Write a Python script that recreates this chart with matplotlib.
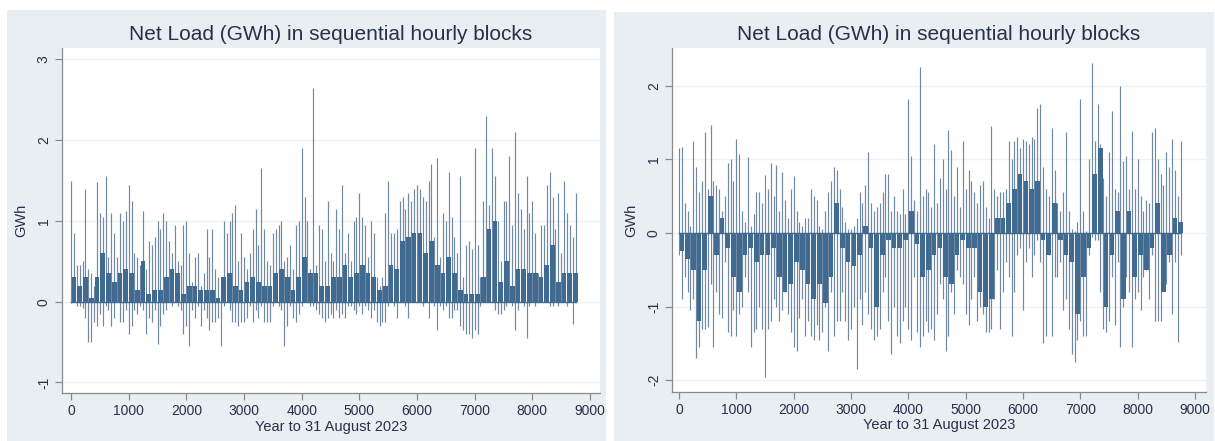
import numpy as np
import matplotlib
matplotlib.use("Agg")
import matplotlib.pyplot as plt
from matplotlib.patches import Rectangle

plt.rcParams['font.family'] = ['Liberation Sans', 'DejaVu Sans']

# ---------------- data ----------------
# hours of the spike groups (every 50 h) and of the dense dark body (every 100 h)
hours_spike = np.arange(0, 8760, 50)
hours_core = np.arange(0, 8760, 100)

left_high = [
    1.50, 0.85, 0.45, 0.45, 0.50, 1.40, 0.40, 0.35, 0.20, 1.48,
    1.10, 1.05, 1.55, 0.55, 1.10, 0.85, 0.55, 1.10, 1.00, 1.12,
    1.45, 1.25, 0.60, 0.55, 0.45, 1.12, 0.40, 0.75, 0.70, 0.80,
    1.00, 0.90, 1.10, 1.00, 0.75, 0.60, 0.95, 0.50, 0.45, 0.95,
    1.00, 0.60, 0.25, 0.55, 0.60, 0.20, 0.35, 0.90, 0.55, 0.90,
    0.40, 0.30, 0.10, 1.00, 0.85, 1.00, 1.10, 1.20, 0.50, 0.85,
    0.55, 0.40, 0.60, 0.90, 1.15, 0.70, 1.65, 0.90, 0.50, 0.45,
    0.85, 0.90, 0.95, 1.00, 0.50, 0.55, 0.70, 0.40, 0.95, 1.00,
    1.90, 1.30, 1.00, 0.40, 2.65, 0.45, 0.95, 0.90, 0.50, 1.25,
    0.60, 0.50, 1.15, 0.90, 1.45, 0.60, 0.85, 0.50, 1.00, 1.05,
    1.35, 1.05, 0.95, 0.55, 1.00, 0.85, 0.30, 0.20, 0.30, 1.10,
    1.50, 0.85, 0.85, 0.90, 1.25, 1.30, 1.15, 1.35, 1.25, 1.40,
    1.45, 1.40, 1.30, 1.25, 1.50, 1.70, 0.80, 1.78, 0.55, 1.10,
    1.00, 1.60, 1.05, 0.80, 0.60, 1.55, 0.30, 0.70, 0.75, 0.65,
    1.90, 0.70, 0.30, 1.25, 2.30, 1.20, 1.90, 1.55, 1.00, 0.50,
    1.25, 1.25, 1.80, 0.95, 2.10, 1.35, 1.15, 0.90, 1.55, 1.10,
    1.25, 0.85, 0.35, 0.95, 0.95, 1.45, 1.60, 1.30, 0.90, 1.35,
    0.60, 1.50, 1.10, 0.95, 0.80, 1.35,
]
left_low = [
    -0.02, 0.00, -0.05, -0.05, -0.08, -0.20, -0.50, -0.50, -0.25, -0.30,
    -0.15, -0.30, -0.05, -0.10, -0.30, -0.20, 0.00, -0.25, -0.25, -0.10,
    -0.40, -0.30, -0.10, -0.15, -0.05, -0.10, -0.40, -0.20, -0.25, -0.10,
    -0.52, -0.30, -0.15, -0.10, 0.00, -0.05, 0.00, -0.05, -0.10, -0.40,
    -0.30, -0.55, -0.10, -0.20, -0.05, -0.30, -0.10, -0.20, -0.35, -0.25,
    -0.25, -0.20, -0.55, -0.05, 0.00, -0.10, -0.25, -0.25, -0.30, -0.25,
    -0.25, -0.20, -0.05, -0.25, -0.10, -0.20, -0.05, -0.25, -0.25, -0.25,
    -0.05, 0.00, -0.05, -0.10, -0.55, -0.30, -0.05, -0.20, -0.25, -0.15,
    -0.05, 0.00, 0.00, -0.05, -0.05, -0.10, -0.15, -0.20, -0.25, -0.20,
    -0.15, -0.20, -0.10, -0.20, -0.15, -0.20, -0.05, -0.05, -0.10, -0.15,
    -0.05, -0.15, -0.05, -0.10, -0.20, -0.10, -0.25, -0.30, -0.25, -0.25,
    -0.05, 0.00, -0.05, -0.20, 0.00, 0.00, -0.05, -0.20, 0.00, 0.00,
    0.00, 0.00, -0.05, 0.00, -0.20, 0.00, -0.05, -0.35, -0.05, -0.10,
    -0.05, -0.20, -0.20, -0.10, -0.10, -0.30, -0.35, -0.40, -0.40, -0.45,
    -0.35, -0.40, -0.05, 0.00, 0.00, 0.00, 0.00, -0.10, -0.15, -0.15,
    -0.10, -0.05, 0.00, -0.05, -0.35, -0.10, 0.00, -0.05, -0.45, -0.05,
    0.00, -0.05, 0.00, 0.00, 0.00, 0.00, -0.05, -0.05, 0.00, -0.05,
    0.00, 0.00, -0.05, 0.00, -0.28, 0.00,
]
left_core = [
    0.30, 0.20, 0.30, 0.05, 0.30, 0.60, 0.35, 0.25, 0.35, 0.40,
    0.35, 0.15, 0.50, 0.10, 0.15, 0.15, 0.30, 0.40, 0.35, 0.10,
    0.20, 0.20, 0.15, 0.15, 0.15, 0.05, 0.30, 0.35, 0.20, 0.15,
    0.25, 0.30, 0.25, 0.20, 0.20, 0.35, 0.40, 0.30, 0.15, 0.30,
    0.55, 0.35, 0.35, 0.20, 0.20, 0.30, 0.30, 0.45, 0.30, 0.35,
    0.45, 0.35, 0.30, 0.15, 0.20, 0.45, 0.40, 0.75, 0.80, 0.85,
    0.85, 0.60, 0.75, 0.45, 0.35, 0.55, 0.35, 0.15, 0.10, 0.10,
    0.10, 0.30, 0.90, 1.00, 0.25, 0.50, 0.20, 0.40, 0.40, 0.35,
    0.35, 0.30, 0.45, 0.70, 0.25, 0.35, 0.35, 0.35,
]

right_high = [
    1.15, 1.17, 0.40, 0.30, 0.10, 1.25, 0.90, 0.55, 0.70, 1.37,
    0.60, 1.47, 0.70, 0.65, 0.60, 0.30, 0.50, 0.95, 1.00, 0.70,
    1.27, 1.07, 0.30, 0.15, 1.03, 0.10, 0.25, 0.55, 0.55, 0.40,
    0.78, 0.60, 0.95, 0.50, 0.92, 0.30, 0.82, 0.45, 0.20, 0.60,
    0.77, 0.30, 0.15, 0.10, 0.20, 0.20, 0.60, 0.50, 0.45, 0.10,
    0.05, 0.30, 0.55, 0.70, 0.90, 0.85, 0.60, 0.35, 0.15, 0.05,
    0.05, 0.10, 0.20, 0.55, 0.40, 0.65, 1.10, 0.40, 0.30, 0.35,
    0.40, 0.55, 0.80, 0.80, 0.30, 0.50, 0.30, 0.25, 0.60, 0.25,
    1.82, 1.05, 0.45, 0.30, 2.25, 0.50, 0.60, 0.55, 0.35, 1.20,
    0.40, 0.75, 1.00, 0.60, 1.40, 1.12, 0.50, 0.90, 0.35, 1.25,
    0.60, 0.85, 0.70, 0.55, 0.40, 0.65, 0.70, 0.35, 0.20, 1.45,
    0.60, 0.50, 0.55, 0.55, 0.60, 1.25, 1.00, 1.25, 1.30, 1.15,
    1.28, 1.25, 1.20, 1.30, 1.28, 1.70, 1.75, 0.90, 0.60, 0.50,
    1.42, 0.85, 0.40, 0.30, 0.55, 1.37, 0.30, 0.05, 0.02, 0.15,
    1.82, 0.30, 0.02, 1.00, 2.30, 1.25, 1.75, 1.20, 0.75, 0.50,
    1.10, 1.65, 0.60, 0.55, 2.00, 0.97, 1.05, 0.60, 1.38, 0.60,
    1.00, 0.50, 0.30, 0.45, 0.40, 1.37, 1.42, 1.00, 0.80, 0.65,
    1.10, 0.90, 1.28, 0.85, 0.50, 1.25,
]
right_low = [
    -0.30, -0.90, -0.60, -0.80, -1.05, -0.90, -1.70, -1.55, -1.30, -1.30,
    -1.28, -0.70, -1.55, -0.80, -1.10, -1.15, -0.40, -1.35, -1.40, -1.05,
    -1.40, -1.10, -1.00, -0.60, -0.80, -1.55, -1.35, -1.30, -1.00, -1.30,
    -1.95, -1.30, -1.20, -0.90, -1.00, -1.20, -1.05, -0.80, -1.10, -1.35,
    -1.55, -1.60, -1.15, -0.90, -1.40, -1.20, -1.40, -1.45, -1.25, -1.45,
    -1.35, -1.00, -1.60, -0.80, -1.40, -1.20, -1.20, -0.80, -1.20, -1.45,
    -1.30, -1.00, -1.85, -0.90, -1.25, -0.80, -1.10, -1.30, -1.45, -1.40,
    -1.30, -0.80, -0.60, -1.20, -1.65, -1.00, -1.40, -1.50, -1.20, -1.00,
    -1.30, -1.45, -0.60, -1.35, -1.55, -1.40, -1.20, -1.35, -1.30, -1.45,
    -1.10, -0.70, -0.90, -1.60, -1.40, -0.80, -1.10, -0.50, -0.60, -0.70,
    -1.10, -1.25, -0.90, -0.60, -1.20, -1.00, -1.10, -1.35, -1.35, -1.30,
    -0.90, -0.50, -1.30, -0.80, -0.40, -0.60, -1.40, -0.80, -0.30, -0.20,
    -1.05, -0.40, -0.20, -0.60, -0.30, -0.10, -0.40, -1.50, -1.40, -0.30,
    -1.40, -0.60, -0.60, -0.40, -1.05, -0.90, -1.30, -1.65, -1.75, -1.45,
    -1.20, -1.40, -1.40, -0.30, -0.05, -0.10, -0.10, -0.80, -1.30, -1.35,
    -1.20, -0.60, -1.25, -0.40, -1.55, -1.00, -0.60, -0.80, -1.55, -0.90,
    -0.80, -1.05, -0.60, -0.50, -0.90, -0.30, -1.20, -1.20, -1.20, -0.70,
    -0.70, -0.40, -1.10, -0.40, -1.48, -0.30,
]
right_core = [
    -0.25, -0.35, -0.50, -1.20, -0.50, 0.50, -0.30, 0.20, -0.20, -0.60,
    -0.80, -0.30, -0.20, -0.40, -0.30, -0.30, -0.20, -0.60, -0.80, -0.70,
    -0.40, -0.50, -0.70, -0.90, -0.70, -0.95, -0.60, 0.40, -0.20, -0.40,
    -0.45, -0.30, 0.10, -0.20, -1.00, -0.30, -0.10, -0.20, -0.20, -0.10,
    0.30, -0.15, -0.60, -0.50, -0.30, -0.20, -0.60, -0.70, -0.30, -0.10,
    -0.20, -0.20, -0.80, -1.00, -0.90, 0.20, 0.20, 0.40, 0.60, 0.80,
    0.70, 0.60, 0.70, -0.10, -0.30, 0.40, -0.10, -0.30, -0.40, -1.10,
    -0.60, -0.20, 0.80, 1.15, -1.00, -0.30, 0.30, -0.90, 0.30, -0.60,
    -0.30, -0.50, -0.20, 0.40, -0.80, -0.30, 0.20, 0.15,
]

title_text = "Net Load (GWh) in sequential hourly blocks"
x_label = "Year to 31 August 2023"
y_label = "GWh"
x_ticks = list(range(0, 10000, 1000))
left_yticks = [-1, 0, 1, 2, 3]
right_yticks = [-2, -1, 0, 1, 2]

# ---------------- styling ----------------
W, H = 1215, 441
fig = plt.figure(figsize=(W / 100, H / 100), dpi=100, facecolor="white")

region_col = "#e8eef2"
spike_col = "#6f88a3"
core_col = "#416a91"
axis_col = "#8a8a8a"
text_col = "#27304a"

# graph regions (light background)
fig.add_artist(Rectangle((7 / W, 0), (606 - 7) / W, (H - 10) / H,
                         transform=fig.transFigure, facecolor=region_col,
                         edgecolor="none", zorder=-10))
fig.add_artist(Rectangle((614 / W, 0), (1214 - 614) / W, (H - 12) / H,
                         transform=fig.transFigure, facecolor=region_col,
                         edgecolor="none", zorder=-10))


def make_panel(rect, high, low, core, yticks, ylim, xlim):
    ax = fig.add_axes(rect)
    ax.set_facecolor("white")
    ax.set_xlim(*xlim)
    ax.set_ylim(*ylim)
    for t in yticks:
        ax.axhline(t, color="#edf1f4", lw=1.0, zorder=0)
    ax.vlines(hours_spike, low, high, color=spike_col, lw=0.85, zorder=2)
    ax.bar(hours_core + 50, core, width=82, align="center", color=core_col,
           edgecolor="none", zorder=3)
    ax.plot([0, 8760], [0, 0], color=core_col, lw=1.0, zorder=4)

    for s in ["top", "right"]:
        ax.spines[s].set_visible(False)
    for s in ["left", "bottom"]:
        ax.spines[s].set_color(axis_col)
        ax.spines[s].set_linewidth(0.9)
    ax.set_xticks(x_ticks)
    ax.set_yticks(yticks)
    ax.set_yticklabels([str(t) for t in yticks], rotation=90, va="center")
    ax.tick_params(axis="both", colors=axis_col, length=5, width=0.9,
                   labelcolor=text_col, labelsize=10, pad=3)
    ax.set_xlabel(x_label, fontsize=10.5, color=text_col, labelpad=1)
    ax.set_ylabel(y_label, fontsize=10.5, color=text_col, labelpad=6)
    ax.set_title(title_text, fontsize=15, color=text_col, pad=6)
    return ax


make_panel([62 / W, 1 - 393 / H, (600 - 62) / W, (393 - 48) / H],
           left_high, left_low, left_core, left_yticks,
           (-1.13, 3.14), (-156, 9173))
make_panel([672 / W, 1 - 392 / H, (1206 - 672) / W, (392 - 48) / H],
           right_high, right_low, right_core, right_yticks,
           (-2.16, 2.51), (-122, 9192))

fig.savefig("out.png", dpi=100, facecolor="white")
